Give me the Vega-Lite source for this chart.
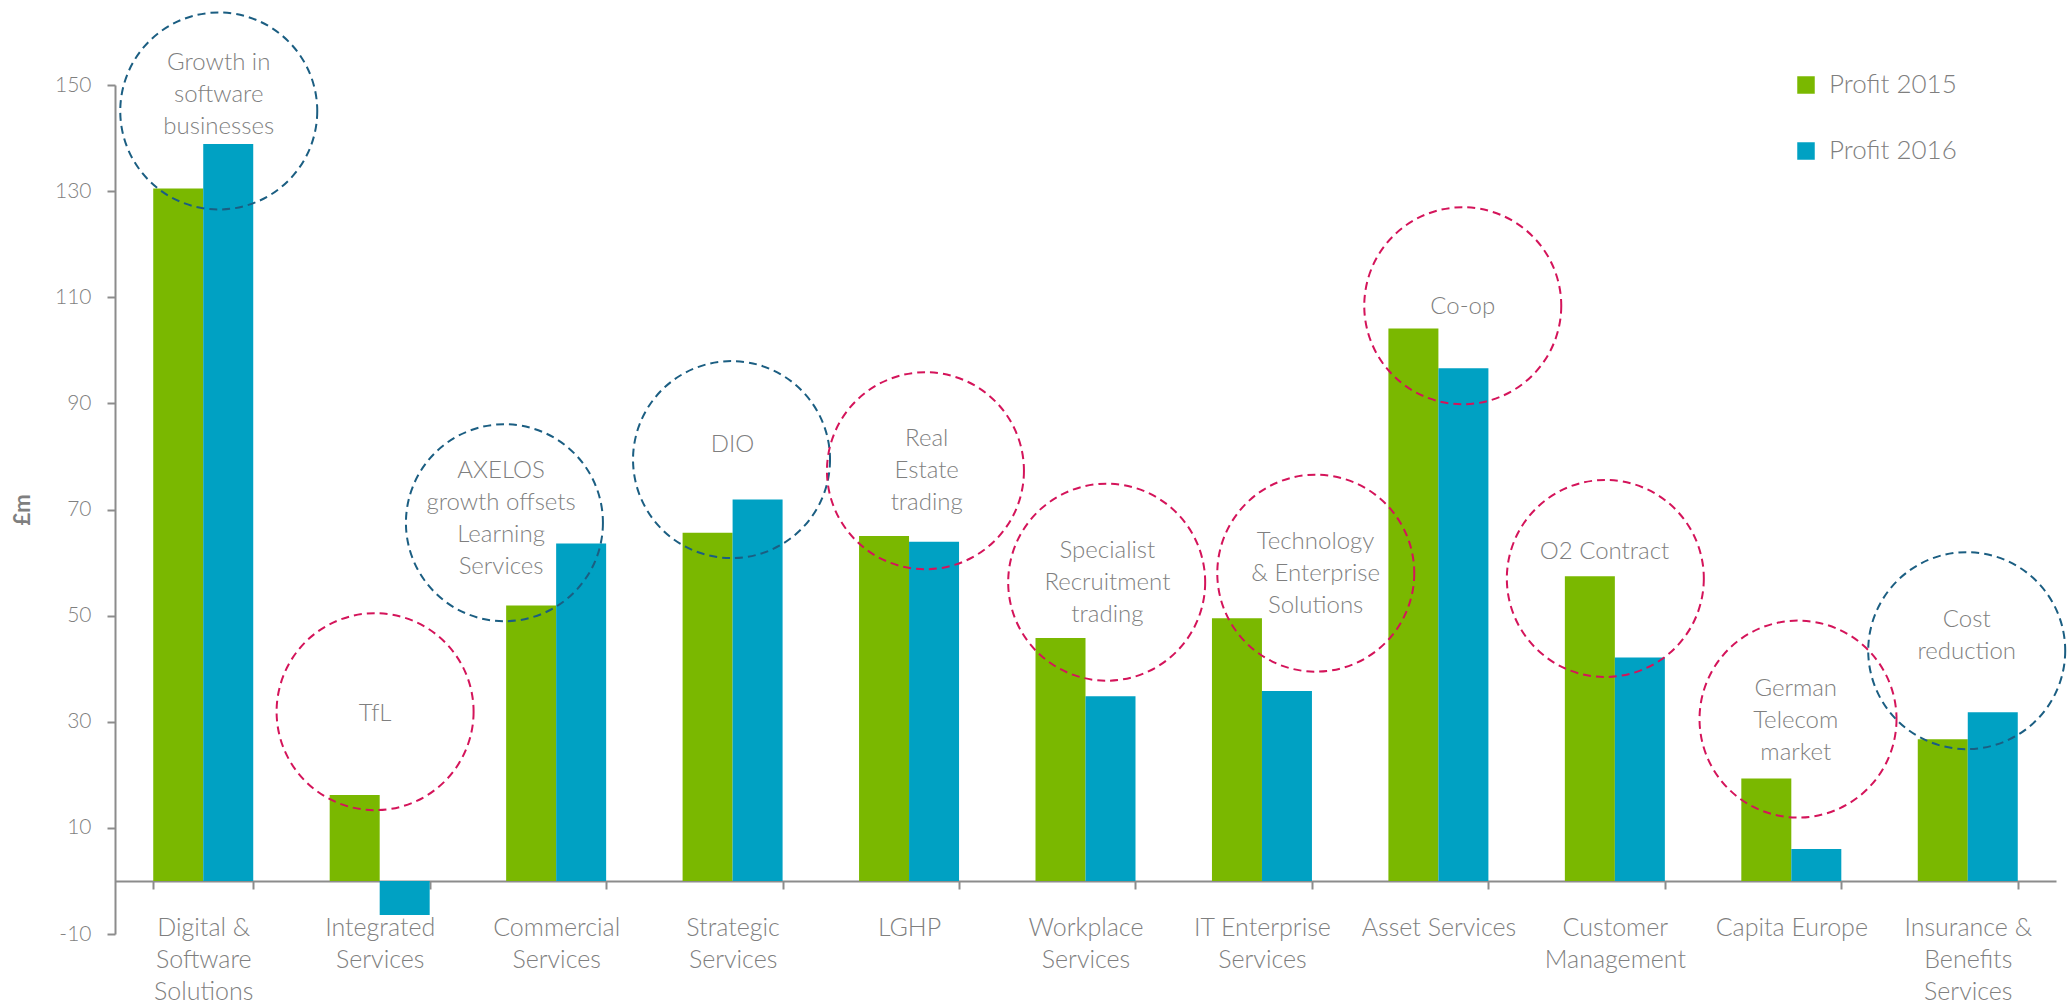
{
  "$schema": "https://vega.github.io/schema/vega-lite/v6.json",
  "width": 1941,
  "height": 849,
  "autosize": {"type": "none"},
  "padding": {"left": 115, "top": 85, "right": 13, "bottom": 71},
  "background": "white",
  "config": {
    "view": {"stroke": null},
    "font": "Lato",
    "axis": {"labelFont": "Lato", "titleFont": "Lato", "labelFontWeight": 300}
  },
  "datasets": {
    "bars": [
      {"segment": "Digital & Software Solutions", "year": "Profit 2015", "value": 130.5},
      {"segment": "Digital & Software Solutions", "year": "Profit 2016", "value": 138.9},
      {"segment": "Integrated Services", "year": "Profit 2015", "value": 16.2},
      {"segment": "Integrated Services", "year": "Profit 2016", "value": -6.4},
      {"segment": "Commercial Services", "year": "Profit 2015", "value": 51.9},
      {"segment": "Commercial Services", "year": "Profit 2016", "value": 63.6},
      {"segment": "Strategic Services", "year": "Profit 2015", "value": 65.6},
      {"segment": "Strategic Services", "year": "Profit 2016", "value": 71.9},
      {"segment": "LGHP", "year": "Profit 2015", "value": 65.0},
      {"segment": "LGHP", "year": "Profit 2016", "value": 63.9},
      {"segment": "Workplace Services", "year": "Profit 2015", "value": 45.8},
      {"segment": "Workplace Services", "year": "Profit 2016", "value": 34.8},
      {"segment": "IT Enterprise Services", "year": "Profit 2015", "value": 49.5},
      {"segment": "IT Enterprise Services", "year": "Profit 2016", "value": 35.8},
      {"segment": "Asset Services", "year": "Profit 2015", "value": 104.1},
      {"segment": "Asset Services", "year": "Profit 2016", "value": 96.6},
      {"segment": "Customer Management", "year": "Profit 2015", "value": 57.4},
      {"segment": "Customer Management", "year": "Profit 2016", "value": 42.1},
      {"segment": "Capita Europe", "year": "Profit 2015", "value": 19.3},
      {"segment": "Capita Europe", "year": "Profit 2016", "value": 6.0},
      {"segment": "Insurance & Benefits Services", "year": "Profit 2015", "value": 26.7},
      {"segment": "Insurance & Benefits Services", "year": "Profit 2016", "value": 31.8}
    ],
    "notes": [
      {"note": "Growth in software businesses", "lines": ["Growth in", "software", "businesses"], "impact": "positive", "cx": 0.588, "cy": 145.1, "tx": 0.588, "ty": 154.1},
      {"note": "TfL", "lines": ["TfL"], "impact": "negative", "cx": 1.474, "cy": 31.9, "tx": 1.474, "ty": 31.4},
      {"note": "AXELOS growth offsets Learning Services", "lines": ["AXELOS", "growth offsets", "Learning", "Services"], "impact": "positive", "cx": 2.207, "cy": 67.5, "tx": 2.188, "ty": 77.3},
      {"note": "DIO", "lines": ["DIO"], "impact": "positive", "cx": 3.494, "cy": 79.4, "tx": 3.499, "ty": 82.2},
      {"note": "Real Estate trading", "lines": ["Real", "Estate", "trading"], "impact": "negative", "cx": 4.593, "cy": 77.3, "tx": 4.6, "ty": 83.2},
      {"note": "Specialist Recruitment trading", "lines": ["Specialist", "Recruitment", "trading"], "impact": "negative", "cx": 5.62, "cy": 56.3, "tx": 5.624, "ty": 62.2},
      {"note": "Technology & Enterprise Solutions", "lines": ["Technology", "& Enterprise", "Solutions"], "impact": "negative", "cx": 6.805, "cy": 58.0, "tx": 6.804, "ty": 63.9},
      {"note": "Co-op", "lines": ["Co-op"], "impact": "negative", "cx": 7.638, "cy": 108.4, "tx": 7.638, "ty": 108.1},
      {"note": "O2 Contract", "lines": ["O2 Contract"], "impact": "negative", "cx": 8.446, "cy": 57.0, "tx": 8.441, "ty": 61.9},
      {"note": "German Telecom market", "lines": ["German", "Telecom", "market"], "impact": "negative", "cx": 9.538, "cy": 30.5, "tx": 9.525, "ty": 36.1},
      {"note": "Cost reduction", "lines": ["Cost", "reduction"], "impact": "positive", "cx": 10.494, "cy": 43.4, "tx": 10.494, "ty": 49.2}
    ]
  },
  "layer": [
    {
      "data": {"name": "bars"},
      "mark": {"type": "bar"},
      "encoding": {
        "x": {
          "field": "segment",
          "type": "nominal",
          "sort": null,
          "scale": {"paddingInner": 0.4333, "paddingOuter": 0.2167},
          "axis": {
            "title": null,
            "labelAngle": 0,
            "offset": -53,
            "tickBand": "extent",
            "domainColor": "#8c8c8c",
            "domainWidth": 2,
            "tickColor": "#8c8c8c",
            "tickWidth": 2,
            "tickSize": 8,
            "labelFontSize": 25,
            "labelColor": "#7f7f7f",
            "labelPadding": 26,
            "labelBaseline": "top",
            "labelLineHeight": 32,
            "labelLimit": 400,
            "labelExpr": "{'Digital & Software Solutions': ['Digital &', 'Software', 'Solutions'], 'Integrated Services': ['Integrated', 'Services'], 'Commercial Services': ['Commercial', 'Services'], 'Strategic Services': ['Strategic', 'Services'], 'LGHP': ['LGHP'], 'Workplace Services': ['Workplace', 'Services'], 'IT Enterprise Services': ['IT Enterprise', 'Services'], 'Asset Services': ['Asset Services'], 'Customer Management': ['Customer', 'Management'], 'Capita Europe': ['Capita Europe'], 'Insurance & Benefits Services': ['Insurance &', 'Benefits', 'Services']}[datum.value]"
          }
        },
        "xOffset": {"field": "year", "type": "nominal", "scale": {"paddingInner": 0, "paddingOuter": 0}},
        "y": {
          "field": "value",
          "type": "quantitative",
          "scale": {"domain": [-10, 150], "nice": false, "zero": false},
          "axis": {
            "title": "£m",
            "titleFontSize": 22,
            "titleFontWeight": "bold",
            "titleColor": "#7f7f7f",
            "titlePadding": 20,
            "values": [-10, 10, 30, 50, 70, 90, 110, 130, 150],
            "labelExpr": "'' + datum.value",
            "grid": false,
            "domainColor": "#8c8c8c",
            "domainWidth": 2,
            "tickColor": "#8c8c8c",
            "tickWidth": 2,
            "tickSize": 8,
            "labelFontSize": 21,
            "labelColor": "#7f7f7f",
            "labelPadding": 16
          }
        },
        "color": {
          "field": "year",
          "type": "nominal",
          "scale": {"domain": ["Profit 2015", "Profit 2016"], "range": ["#7ab800", "#00a1c3"]},
          "legend": {
            "orient": "none",
            "legendX": 1678,
            "legendY": -13,
            "title": null,
            "symbolType": "square",
            "symbolSize": 306,
            "symbolStrokeWidth": 0,
            "labelFontSize": 26,
            "labelFont": "Lato",
            "labelFontWeight": 300,
            "labelColor": "#7f7f7f",
            "rowPadding": 40,
            "labelOffset": 10
          }
        }
      }
    },
    {
      "data": {"name": "notes"},
      "mark": {"type": "point", "shape": "circle", "filled": false, "size": 38809, "strokeWidth": 2, "strokeDash": [8, 5], "opacity": 1},
      "encoding": {
        "x": {"field": "cx", "type": "quantitative", "scale": {"domain": [0, 11], "nice": false, "zero": false}, "axis": null},
        "y": {"field": "cy", "type": "quantitative", "scale": {"domain": [-10, 150], "nice": false, "zero": false}, "title": "£m"},
        "stroke": {
          "field": "impact",
          "type": "nominal",
          "scale": {"domain": ["positive", "negative"], "range": ["#1b5e82", "#d4145a"]},
          "legend": null
        }
      }
    },
    {
      "data": {"name": "notes"},
      "mark": {"type": "text", "align": "center", "baseline": "middle", "fontSize": 24, "lineHeight": 32, "font": "Lato", "fontWeight": 300, "color": "#7f7f7f"},
      "encoding": {
        "x": {"field": "tx", "type": "quantitative", "scale": {"domain": [0, 11], "nice": false, "zero": false}, "axis": null},
        "y": {"field": "ty", "type": "quantitative", "scale": {"domain": [-10, 150], "nice": false, "zero": false}, "title": "£m"},
        "text": {"field": "lines"}
      }
    }
  ],
  "resolve": {"scale": {"x": "independent"}}
}
